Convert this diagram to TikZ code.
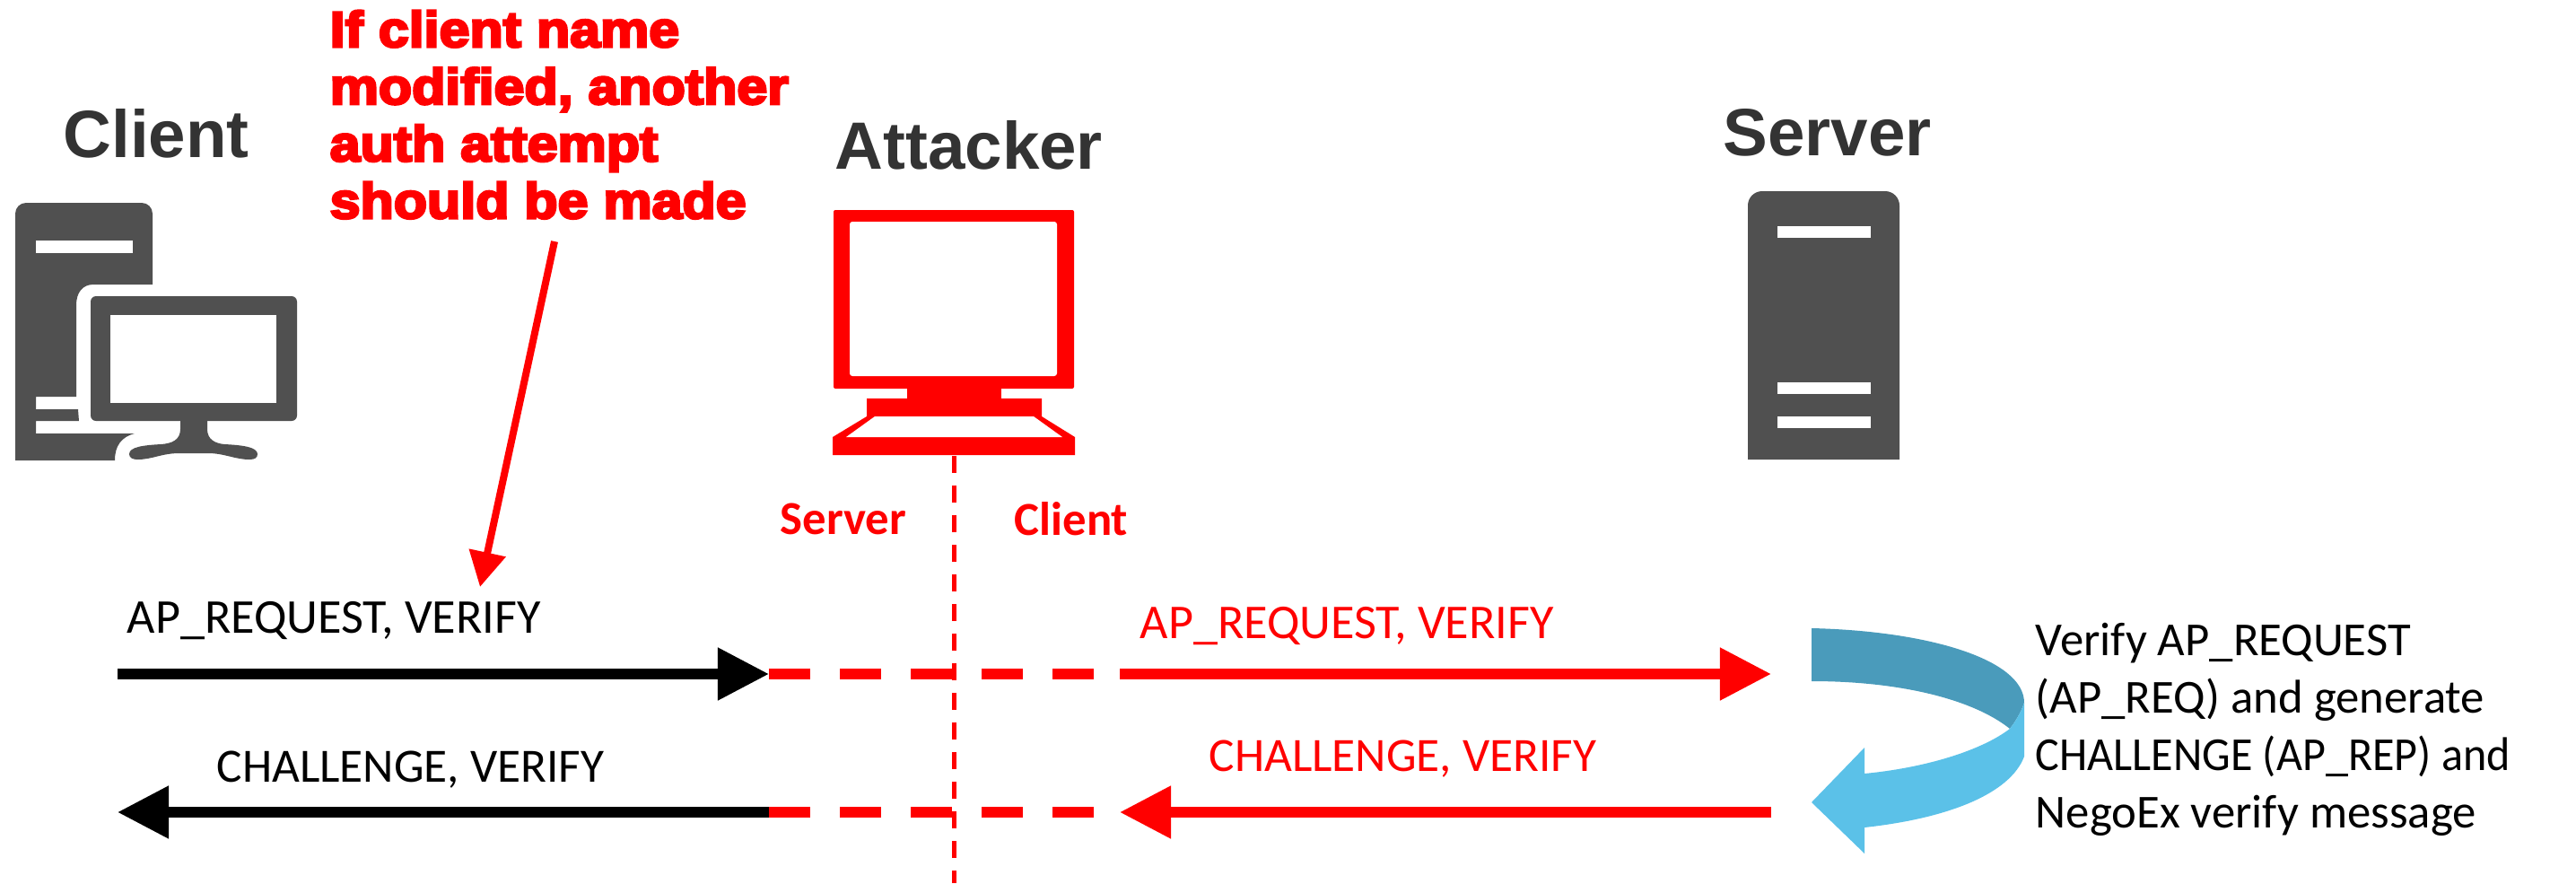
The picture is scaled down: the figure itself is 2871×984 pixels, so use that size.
\documentclass[tikz,border=0pt]{standalone}
\usepackage{fontspec}
\usepackage{tikz}
\usetikzlibrary{arrows.meta,positioning}

\setmainfont{Carlito}
\newfontfamily\headfont{Liberation Sans}
\newfontfamily\notefont{Liberation Sans}[BoldFeatures={FakeBold=5,FakeStretch=1.09}]

\definecolor{icongray}{HTML}{505050}
\definecolor{headgray}{HTML}{333333}
\definecolor{turndark}{HTML}{4A9BBB}
\definecolor{turnlight}{HTML}{5BC1E8}

\tikzset{
  iconfill/.style={fill=icongray},
  iconhole/.style={fill=white},
  headlabel/.style={anchor=base west, inner sep=0pt, text=headgray, font=\headfont\bfseries\fontsize{21.2}{25}\selectfont},
  msglabel/.style={anchor=base west, inner sep=0pt, font=\fontsize{15.4}{18}\selectfont},
  replabel/.style={anchor=base west, inner sep=0pt, font=\fontsize{15.15}{18}\selectfont},
  sidelabel/.style={anchor=base west, inner sep=0pt, text=red, font=\fontsize{15}{18}\selectfont\bfseries},
  msgline/.style={line width=.113cm},
  msgarrow/.style={msgline, -{Triangle[length=.57cm,width=.56cm]}},
  msgdash/.style={msgline, red, dash pattern=on .46cm off .33cm},
}

\begin{document}
\begin{tikzpicture}[x=.01cm, y=-.01cm]

  \useasboundingbox (0,0) rectangle (2871,984);

  % Headings
  \node[headlabel] (clienthead) at (70,175) {Client}; %
  \node[headlabel] (attackerhead) at (930,188) {Attacker}; %
  \node[headlabel] (serverhead) at (1920,173) {Server}; %

  % Client icon
  \fill[iconfill] (17,513) [rounded corners=.12cm] -- (17,226) -- (170,226) [sharp corners] -- (170,317) -- (104,317)
    .. controls (92,317) and (85,326) .. (85,340) -- (85,442) -- (40,442) -- (40,456) -- (87,456) -- (88,469)
    -- (40,469) -- (40,483) -- (150,483) .. controls (135,487) and (128,497) .. (128,513) -- cycle;
  \fill[iconhole] (40,268) rectangle (148,282);
  \fill[iconfill, rounded corners=.06cm] (101,330) rectangle (331,469);
  \fill[iconhole] (123,351) rectangle (308,449);
  \fill[iconfill] (201,465) -- (201,478) .. controls (201,490) and (192,494) .. (180,495)
    .. controls (160,496) and (144,498) .. (144,506) .. controls (144,510) and (148,512) .. (153,512)
    .. controls (170,512) and (180,505) .. (200,505) -- (232,505) .. controls (250,505) and (262,512) .. (278,512)
    .. controls (284,512) and (287,510) .. (287,506) .. controls (287,498) and (270,496) .. (250,495)
    .. controls (240,494) and (231,490) .. (231,478) -- (231,465) -- cycle;

  % Attacker icon
  \fill[red, rounded corners=.02cm] (929,234) rectangle (1197,433);
  \fill[iconhole, rounded corners=.03cm] (947,247) rectangle (1178,419);
  \fill[red] (1011,430) rectangle (1116,444);
  \fill[red] (966,444) -- (1161,444) -- (1161,464) -- (1198,487) -- (1198,507) -- (928,507) -- (928,487) -- (966,464) -- cycle;
  \fill[iconhole] (975,464) -- (1152,464) -- (1184,487) -- (943,487) -- cycle;

  % Server icon
  \fill[iconfill] (1948,512) [rounded corners=.16cm] -- (1948,213) -- (2117,213) [sharp corners] -- (2117,512) -- cycle;
  \foreach \bary in {252,426,464}
    \fill[iconhole] (1981,\bary) rectangle (2085,\bary+13);

  % Note above the exchange
  \node[anchor=north west, inner sep=0pt, text=red, align=left,
        font=\notefont\bfseries\fontsize{15.9}{18.1}\selectfont] (note) at (367,11)
    {If client name\\modified, another\\auth attempt\\should be made}; %
  \coordinate (notefrom) at (618,269); %
  \coordinate (noteto) at (535,654); %
  \draw[red, line width=.08cm, -{Triangle[length=.39cm,width=.40cm]}] (notefrom) -- (noteto);

  % Attacker split
  \coordinate (splittop) at (1063,508); %
  \coordinate (splitend) at (1063,984); %
  \draw[red, line width=.05cm, dash pattern=on .19cm off .14cm] (splittop) -- (splitend);
  \node[sidelabel] (sideserver) at (869,595) {Server}; %
  \node[sidelabel] (sideclient) at (1130,596) {Client}; %

  % Request row
  \coordinate (reqa) at (131,751); %
  \coordinate (reqb) at (857,751); %
  \coordinate (reqc) at (1221,751); %
  \coordinate (reqd) at (1248,751); %
  \coordinate (reqe) at (1974,751); %
  \draw[msgarrow] (reqa) -- (reqb);
  \draw[msgdash] (reqb) -- (reqc);
  \draw[msgarrow, red] (reqd) -- (reqe);
  \node[msglabel] (reqleft) at (141,705) {AP\_REQUEST, VERIFY}; %
  \node[msglabel, text=red] (reqright) at (1270,711) {AP\_REQUEST, VERIFY}; %

  % Response row
  \coordinate (repa) at (1974,905); %
  \coordinate (repb) at (1248,905); %
  \coordinate (repc) at (1221,905); %
  \coordinate (repd) at (857,905); %
  \coordinate (repe) at (131,905); %
  \draw[msgarrow, red] (repa) -- (repb);
  \draw[msgdash] (repd) -- (repc);
  \draw[msgarrow] (repd) -- (repe);
  \node[replabel] (repleft) at (241,871) {CHALLENGE, VERIFY}; %
  \node[replabel, text=red] (repright) at (1347,859) {CHALLENGE, VERIFY}; %

  % Turn arrow on the server side
  \fill[turndark] (2019,700) .. controls (2150,703) and (2256,735) .. (2256,783)
    .. controls (2252,795) and (2246,804) .. (2240,812) .. controls (2200,780) and (2120,759) .. (2019,759) -- cycle;
  \fill[turnlight] (2256,783) -- (2256,843) .. controls (2240,885) and (2170,912) .. (2078,922) -- (2078,951)
    -- (2019,894) -- (2078,833) -- (2078,862) .. controls (2150,855) and (2210,835) .. (2240,812)
    .. controls (2246,804) and (2252,795) .. (2256,783) -- cycle;

  % Verify text
  \node[anchor=north west, inner sep=0pt, align=left, font=\fontsize{15}{18.2}\selectfont] (verifytext) at (2268,693)
    {Verify AP\_REQUEST\\(AP\_REQ) and generate\\\scalebox{.95}[1]{CHALLENGE (AP\_REP) and}\\NegoEx verify message}; %

\end{tikzpicture}
\end{document}
